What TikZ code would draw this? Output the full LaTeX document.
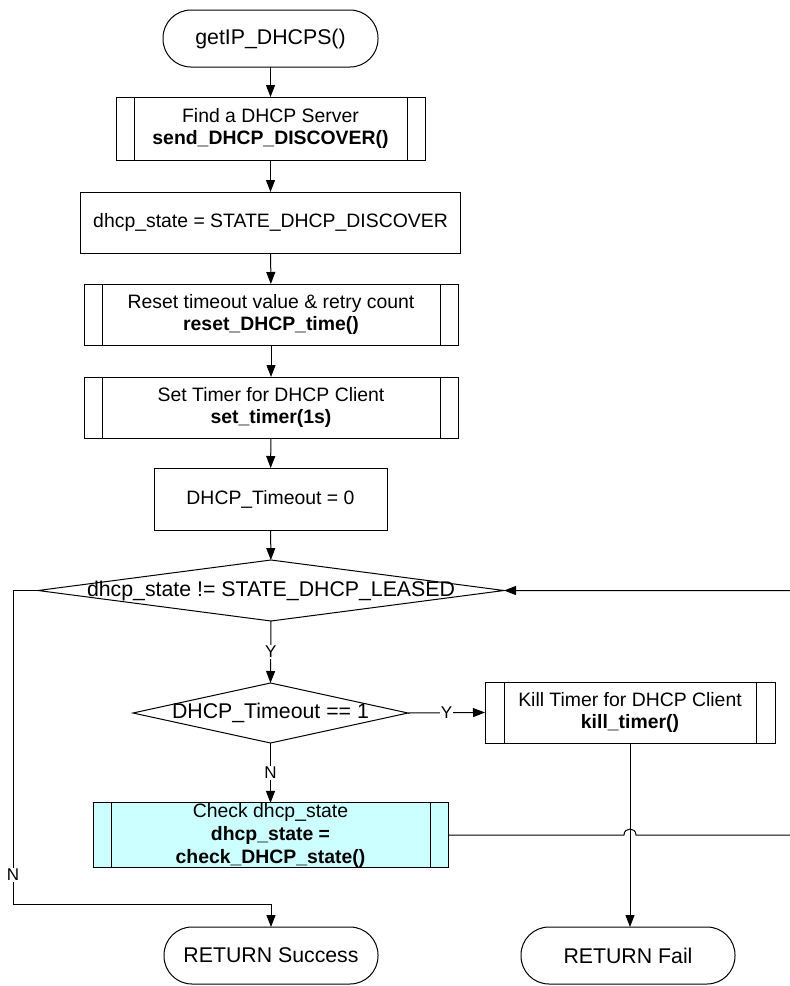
\documentclass[tikz,border=0pt]{standalone}
\usepackage{fontspec}
\setmainfont{Liberation Sans}
\usetikzlibrary{arrows.meta,shapes.geometric}
\definecolor{chkfill}{RGB}{204,255,255}
\newcommand{\boxfont}{\fontsize{19.4}{22.5}\selectfont}
\newcommand{\bigfont}{\fontsize{21.3}{24}\selectfont}
\newcommand{\lblfont}{\fontsize{17}{19}\selectfont}
\begin{document}
\begin{tikzpicture}[x=1pt,y=-1pt,line width=1pt,
  arr/.style={-{Triangle[length=12pt,width=9pt]}},
  box/.style={draw, rectangle, inner sep=0pt, outer sep=0pt, align=center, font=\boxfont},
  proc/.style={box, path picture={
      \draw[line width=1pt]
        ([xshift=#1]path picture bounding box.north west) -- ([xshift=#1]path picture bounding box.south west)
        ([xshift=-#1]path picture bounding box.north east) -- ([xshift=-#1]path picture bounding box.south east);}},
  term/.style={draw, rectangle, rounded corners=28pt, minimum width=215pt, minimum height=57pt,
      inner sep=0pt, outer sep=0pt, font=\bigfont},
  dec/.style={draw, diamond, inner sep=0pt, outer sep=0pt, font=\bigfont},
  lbl/.style={fill=white, inner sep=1pt, font=\lblfont}
]
\useasboundingbox (0,0) rectangle (790,986);

\node[term] (start) at (270.5,38.5) {getIP\_DHCPS()};
\node[proc=18pt, minimum width=309pt, minimum height=63pt] (b1) at (270.5,128.5)
  {Find a DHCP Server\\\textbf{send\_DHCP\_DISCOVER()}};
\node[box, minimum width=380pt, minimum height=61pt] (b2) at (270.5,222.5)
  {dhcp\_state = STATE\_DHCP\_DISCOVER};
\node[proc=18pt, minimum width=374pt, minimum height=61pt] (b3) at (271,314.5)
  {Reset timeout value \& retry count\\\textbf{reset\_DHCP\_time()}};
\node[proc=18pt, minimum width=374pt, minimum height=61pt] (b4) at (271,407.5)
  {Set Timer for DHCP Client\\\textbf{set\_timer(1s)}};
\node[box, minimum width=233pt, minimum height=62pt] (b5) at (270.5,499)
  {DHCP\_Timeout = 0};
\node[dec, minimum width=466pt, minimum height=61pt] (d1) at (271,590.5)
  {\makebox[0pt]{dhcp\_state != STATE\_DHCP\_LEASED}};
\node[dec, minimum width=275pt, minimum height=60pt] (d2) at (270.5,713)
  {\makebox[0pt]{DHCP\_Timeout == 1}};
\node[proc=19pt, minimum width=290pt, minimum height=61pt] (kill) at (630,712.5)
  {Kill Timer for DHCP Client\\\textbf{kill\_timer()}};
\node[proc=18pt, fill=chkfill, minimum width=355pt, minimum height=62pt, font=\fontsize{19.4}{23}\selectfont] (chk) at (270.5,835)
  {Check dhcp\_state\\\textbf{dhcp\_state =}\\\textbf{check\_DHCP\_state()}};
\node[term, minimum width=214pt] (succ) at (271,955.5) {RETURN Success};
\node[term, minimum width=214pt] (fail) at (628,955.5) {RETURN Fail};

\coordinate (lb) at (13,904);
\coordinate (rb) at (792,835);
\coordinate (hop) at (kill.south |- chk.east);

\draw[arr] (start) -- (b1);
\draw[arr] (b1) -- (b2);
\draw[arr] (b2) -- (b3);
\draw[arr] (b3) -- (b4);
\draw[arr] (b4) -- (b5);
\draw[arr] (b5) -- (d1);
\draw[arr] (d1.south) -- node[lbl]{Y} (d2.north);
\draw[arr] (d2.east) -- node[lbl]{Y} (kill.west);
\draw[arr] (d2.south) -- node[lbl]{N} (chk.north);
\draw[arr] (kill.south) -- (kill.south |- fail.north);
\draw[arr] (d1.west) -| (lb) -| (succ.north);
\node[lbl] (nlbl) at (13,875) {N};
\draw[arr] (chk.east) -- ([xshift=-6pt]hop) .. controls ([xshift=-6pt,yshift=8pt]hop) and ([xshift=6pt,yshift=8pt]hop) .. ([xshift=6pt]hop) -- (rb) |- (d1.east);
\end{tikzpicture}
\end{document}
